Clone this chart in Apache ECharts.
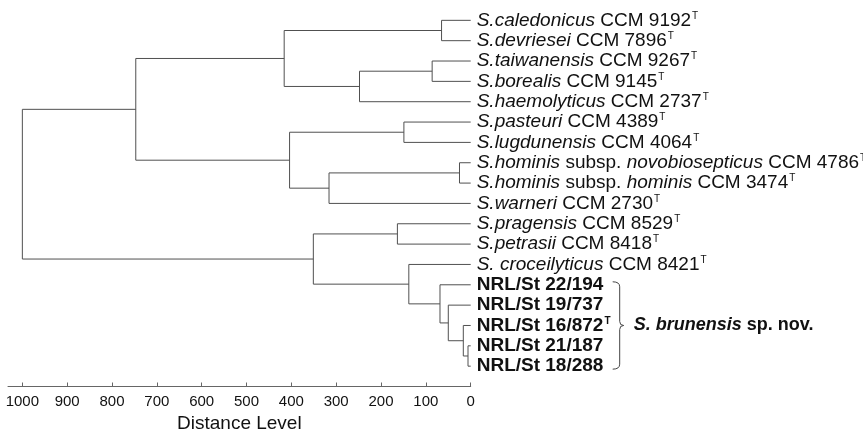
<!DOCTYPE html>
<html>
<head>
<meta charset="utf-8">
<script src="https://cdn.jsdelivr.net/npm/echarts@6/dist/echarts.min.js"></script>
<style>html,body{margin:0;padding:0;background:#fff}#c{width:863px;height:431px}</style>
</head>
<body>
<div id="c"></div>
<script>
// Leaves (top to bottom)
const leafSpecies = ['S.caledonicus','S.devriesei','S.taiwanensis','S.borealis','S.haemolyticus','S.pasteuri','S.lugdunensis','S.hominis','S.hominis','S.warneri','S.pragensis','S.petrasii','S. croceilyticus','NRL/St 22/194','NRL/St 19/737','NRL/St 16/872','NRL/St 21/187','NRL/St 18/288'];
const leafSubsp = ['','','','','','','','novobiosepticus','hominis','','','','','','','','',''];
const leafStrain = ['CCM 9192','CCM 7896','CCM 9267','CCM 9145','CCM 2737','CCM 4389','CCM 4064','CCM 4786','CCM 3474','CCM 2730','CCM 8529','CCM 8418','CCM 8421','','','','',''];
const leafType = [1,1,1,1,1,1,1,1,1,1,1,1,1,0,0,1,0,0];
const leafBold = [0,0,0,0,0,0,0,0,0,0,0,0,0,1,1,1,1,1];

// Merges: node ids 0..17 are leaves, merge k creates node 18+k
const mergeA =    [16, 15, 14, 13, 12, 7,  0,  2,  5,   10,  25,  23,  27,  26,  24,  32,  33];
const mergeB =    [17, 18, 19, 20, 21, 8,  1,  3,  6,   11,  4,   9,   22,  29,  28,  31,  30];
const mergeDist = [6,  16.5, 50, 68.5, 138, 25, 65, 86, 149, 163.5, 248, 316, 351, 404, 416, 747, 1000];

const xTicks = [0,100,200,300,400,500,600,700,800,900,1000];
const cladeLabel = 'S. brunensis';
const cladeSuffix = 'sp. nov.';
const cladeRange = [13, 17];

// build tree geometry in data units
const nodeX = [], nodeY = [];
for (let i = 0; i < leafSpecies.length; i++) { nodeX.push(0); nodeY.push(i); }
const links = [];
for (let k = 0; k < mergeA.length; k++) {
  const a = mergeA[k], b = mergeB[k], d = mergeDist[k];
  links.push({coords: [[nodeX[a], nodeY[a]], [d, nodeY[a]], [d, nodeY[b]], [nodeX[b], nodeY[b]]]});
  nodeX.push(d); nodeY.push((nodeY[a] + nodeY[b]) / 2);
}

function leafLabel(v) {
  if (v < 0 || v >= leafSpecies.length || Math.round(v) !== v) return '';
  const sup = leafType[v] ? '{t|T}' : '';
  if (leafBold[v]) return '{b|' + leafSpecies[v] + '}' + (leafType[v] ? '{tb|T}' : '');
  let s = '{i|' + leafSpecies[v] + '}';
  if (leafSubsp[v]) s += ' subsp. {i|' + leafSubsp[v] + '}';
  s += ' ' + leafStrain[v] + sup;
  return s;
}

const chart = echarts.init(document.getElementById('c'), null, {renderer: 'canvas'});
const FF = 'Liberation Sans, Arial, Helvetica, sans-serif';
chart.setOption({
  animation: false,
  backgroundColor: '#fff',
  grid: {left: 8, right: 392.3, top: 0, bottom: 44.5, containLabel: false, outerBoundsMode: 'none'},
  xAxis: {
    type: 'value', inverse: true, min: 0, max: 1032, interval: 100,
    axisLine: {show: true, onZero: false, lineStyle: {color: '#666', width: 1}},
    axisTick: {show: true, inside: true, length: 4, customValues: xTicks, lineStyle: {color: '#666'}},
    axisLabel: {show: true, customValues: xTicks, margin: 8, fontSize: 15, color: '#111', fontFamily: FF,
      formatter: function (v) { return String(v); }},
    splitLine: {show: false},
    name: 'Distance Level', nameLocation: 'middle', nameGap: 28,
    nameTextStyle: {fontSize: 19, color: '#111', fontFamily: FF}
  },
  yAxis: {
    type: 'value', inverse: true, min: -1, max: 18, interval: 1, position: 'right',
    axisLine: {show: false, onZero: false}, axisTick: {show: false}, splitLine: {show: false},
    axisLabel: {
      show: true, margin: 6, fontSize: 19, color: '#111', fontFamily: FF,
      formatter: leafLabel,
      rich: {
        i: {fontStyle: 'italic', fontSize: 19, color: '#111', fontFamily: FF},
        b: {fontWeight: 'bold', fontSize: 19, color: '#111', fontFamily: FF},
        t: {fontSize: 10, color: '#111', fontFamily: FF, verticalAlign: 'top', padding: [0, 0, 0, 1]},
        tb: {fontSize: 10, fontWeight: 'bold', color: '#111', fontFamily: FF, verticalAlign: 'top', padding: [0, 0, 0, 1]}
      }
    }
  },
  series: [
    {
      type: 'lines', coordinateSystem: 'cartesian2d', polyline: true, silent: true,
      lineStyle: {color: '#505050', width: 1, opacity: 1},
      data: links
    },
    {
      type: 'custom', coordinateSystem: 'cartesian2d', clip: false, silent: true,
      data: [cladeRange],
      renderItem: function (params, api) {
        const p0 = api.coord([0, api.value(0)]);
        const p1 = api.coord([0, api.value(1)]);
        const x0 = p0[0] + 142, x1 = x0 + 7, x2 = x0 + 11;
        const yT = p0[1] - 3, yB = p1[1] + 3, yM = (yT + yB) / 2;
        const path = 'M' + x0 + ' ' + yT + ' Q' + x1 + ' ' + yT + ' ' + x1 + ' ' + (yT + 5) +
          ' L' + x1 + ' ' + (yM - 4) + ' Q' + x1 + ' ' + yM + ' ' + x2 + ' ' + yM +
          ' Q' + x1 + ' ' + yM + ' ' + x1 + ' ' + (yM + 4) +
          ' L' + x1 + ' ' + (yB - 5) + ' Q' + x1 + ' ' + yB + ' ' + x0 + ' ' + yB;
        return {
          type: 'group',
          children: [
            {type: 'path', shape: {pathData: path}, style: {fill: null, stroke: '#444', lineWidth: 1}},
            {type: 'text', x: x2 + 10, y: yM, style: {
              text: '{bi|' + cladeLabel + '} ' + cladeSuffix,
              fontSize: 18, fontWeight: 'bold', fill: '#111', fontFamily: FF,
              verticalAlign: 'middle', align: 'left',
              rich: {bi: {fontStyle: 'italic', fontWeight: 'bold', fontSize: 18, fill: '#111', fontFamily: FF}}
            }}
          ]
        };
      }
    }
  ]
});
</script>
</body>
</html>
